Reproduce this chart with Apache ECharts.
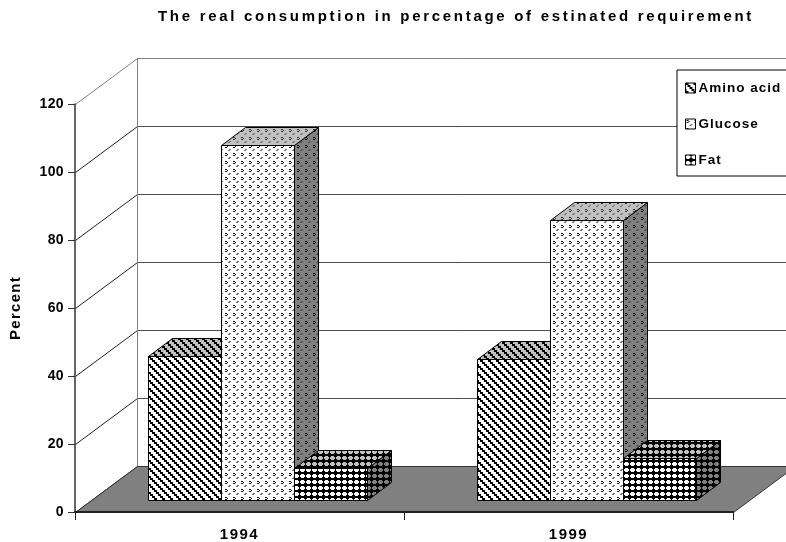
<!DOCTYPE html>
<html>
<head>
<meta charset="utf-8">
<style>
html,body{margin:0;padding:0;background:#fff;overflow:hidden;}
#chart{width:786px;height:542px;}
</style>
<script src="https://cdn.jsdelivr.net/npm/echarts@6/dist/echarts.min.js"></script>
</head>
<body>
<div id="chart"></div>
<script>
const titleText = 'The real consumption in percentage of estinated requirement';
const categories = ['1994', '1999'];
const yTicks = [0, 20, 40, 60, 80, 100, 120];
const aminoAcid = [42.4, 41.5];
const glucose = [104.4, 82.4];
const fat = [9.4, 12.4];

// the source chart has wide tracked type, echarts has no letter spacing option
const trackedText = {Percent: '1.3px', 'Amino acid': '1px', Glucose: '1px', Fat: '1px', '1994': '1.5px', '1999': '1.5px'};
trackedText[titleText] = '2.7px';
const rawFillText = CanvasRenderingContext2D.prototype.fillText;
CanvasRenderingContext2D.prototype.fillText = function(text){
    this.letterSpacing = trackedText[text] || '0.4px';
    return rawFillText.apply(this, arguments);
};

function tile(rows, colors){
    const c = document.createElement('canvas');
    c.width = rows[0].length;
    c.height = rows.length;
    const ctx = c.getContext('2d');
    rows.forEach((row, y) => {
        for(let x = 0; x < row.length; x++){
            ctx.fillStyle = colors[row[x]];
            ctx.fillRect(x, y, 1, 1);
        }
    });
    return {image: c, repeat: 'repeat'};
}

const stripeRows = [
    'XXX.....',
    'XXX.....',
    '..XXX...',
    '..XXX...',
    '....XXX.',
    '....XXX.',
    'X.....XX',
    'X.....XX'
];
const dotRows = [
    '........',
    '.XX.....',
    '...X....',
    '.XX.....',
    '........',
    '.....oo.',
    '....oo..',
    '........'
];
const knobRows = [
    '.ooo..',
    'ooooo.',
    'ooooo.',
    '.ooo..',
    '......',
    '......'
];
const patterns = {
    amino: {
        front: tile(stripeRows, {'.': '#fff', X: '#000'}),
        top: tile(stripeRows, {'.': '#c0c0c0', X: '#000'}),
        side: tile(stripeRows, {'.': '#808080', X: '#000'})
    },
    glucose: {
        front: tile(dotRows, {'.': '#fff', X: '#111', o: '#777'}),
        top: tile(dotRows, {'.': '#c0c0c0', X: '#333', o: '#808080'}),
        side: tile(dotRows, {'.': '#808080', X: '#000', o: '#555'})
    },
    fat: {
        front: tile(knobRows, {'.': '#000', o: '#fff'}),
        top: tile(knobRows, {'.': '#000', o: '#c0c0c0'}),
        side: tile(knobRows, {'.': '#000', o: '#808080'})
    }
};

const chart = echarts.init(document.getElementById('chart'), null, {renderer: 'canvas'});

const crisp = v => Math.round(v) + 0.5;
const floorDepth = [62, -46];
const barDepth = [24, -18];
const barShift = [18, -12];
const barShare = 73 / 329;

function poly(points, fill, stroke, lineWidth){
    return {
        type: 'polygon',
        shape: {points: points},
        style: {fill: fill, stroke: stroke, lineWidth: lineWidth === undefined ? 1 : lineWidth}
    };
}

function renderWall(params, api){
    const rect = params.coordSys;
    const v = api.value(0);
    const y = crisp(api.coord([0, v])[1]);
    const x = crisp(rect.x);
    const backX = x + floorDepth[0];
    const backY = y + floorDepth[1];
    const isTop = v === yTicks[yTicks.length - 1];
    const children = [
        {type: 'line', shape: {x1: x, y1: y, x2: backX, y2: backY}, style: {stroke: isTop ? '#808080' : '#222', lineWidth: 1}},
        {type: 'line', shape: {x1: backX, y1: backY, x2: backX + rect.width, y2: backY}, style: {stroke: isTop ? '#808080' : '#4d4d4d', lineWidth: 1}}
    ];
    if(isTop){
        const bottom = crisp(api.coord([0, 0])[1]) + floorDepth[1];
        children.push({type: 'line', shape: {x1: backX, y1: backY, x2: backX, y2: bottom}, style: {stroke: '#808080', lineWidth: 1}});
    }
    return {type: 'group', children: children};
}

function renderFloor(params, api){
    const rect = params.coordSys;
    const x = crisp(rect.x);
    const y = crisp(api.coord([0, 0])[1]);
    const r = x + rect.width;
    return poly([
        [x, y],
        [x + floorDepth[0], y + floorDepth[1]],
        [r + floorDepth[0], y + floorDepth[1]],
        [r, y]
    ], '#808080', '#333');
}

function barRenderer(slot, look){
    return function(params, api){
        const cat = api.value(0);
        const base = api.coord([cat, 0]);
        const top = api.coord([cat, api.value(1)]);
        const w = Math.round(api.size([1, 0])[0] * barShare);
        const left = crisp(base[0] + barShift[0] + (slot - 1.5) * w);
        const right = left + w;
        const bottom = crisp(base[1] + barShift[1]);
        const head = crisp(top[1] + barShift[1]);
        const dx = barDepth[0];
        const dy = barDepth[1];
        return {
            type: 'group',
            children: [
                poly([[right, bottom], [right + dx, bottom + dy], [right + dx, head + dy], [right, head]], look.side, '#000'),
                poly([[left, head], [left + dx, head + dy], [right + dx, head + dy], [right, head]], look.top, '#000'),
                poly([[left, bottom], [left, head], [right, head], [right, bottom]], look.front, '#000')
            ]
        };
    };
}

function barSeries(name, values, slot, look){
    return {
        name: name,
        type: 'custom',
        z: 2,
        silent: true,
        clip: false,
        itemStyle: {color: look.front, borderColor: '#000', borderWidth: 1},
        encode: {x: 0, y: 1},
        renderItem: barRenderer(slot, look),
        data: values.map((v, i) => [i, v])
    };
}

const labelFont = {fontFamily: '"Liberation Sans", Arial, sans-serif', fontWeight: 'bold', fontSize: 14, color: '#000'};
const bigFont = Object.assign({}, labelFont, {fontSize: 15});

const option = {
    animation: false,
    backgroundColor: '#fff',
    title: {
        text: titleText,
        left: 158,
        top: 9,
        padding: 0,
        textStyle: bigFont
    },
    legend: {
        orient: 'vertical',
        left: 677,
        top: 70,
        z: 6,
        padding: [11, 40, 9, 8],
        backgroundColor: '#fff',
        borderColor: '#000',
        borderWidth: 1,
        borderRadius: 0,
        itemWidth: 10,
        itemHeight: 10,
        itemGap: 22,
        selectedMode: false,
        icon: 'rect',
        textStyle: Object.assign({}, labelFont, {fontSize: 13.5, padding: [0, 0, 0, -2]}),
        data: [
            {name: 'Amino acid', itemStyle: {color: patterns.amino.front, borderColor: '#000', borderWidth: 1}},
            {name: 'Glucose', itemStyle: {color: patterns.glucose.front, borderColor: '#000', borderWidth: 1}},
            {name: 'Fat', itemStyle: {color: patterns.fat.front, borderColor: '#000', borderWidth: 1}}
        ]
    },
    grid: {left: 75, top: 104, width: 658, height: 408},
    xAxis: {
        type: 'category',
        data: categories,
        z: 3,
        axisLine: {lineStyle: {color: '#222', width: 2}},
        axisTick: {show: true, length: 8, lineStyle: {color: '#222', width: 1}},
        axisLabel: Object.assign({}, bigFont, {margin: 15})
    },
    yAxis: {
        type: 'value',
        min: 0,
        max: 120,
        interval: 20,
        z: 3,
        name: 'Percent',
        nameLocation: 'middle',
        nameRotate: 90,
        nameGap: 52,
        nameTextStyle: bigFont,
        splitLine: {show: false},
        axisLine: {show: true, lineStyle: {color: '#333', width: 1.5}},
        axisTick: {show: true, length: 7, lineStyle: {color: '#333', width: 1}},
        axisLabel: Object.assign({}, labelFont, {margin: 11})
    },
    series: [
        {
            name: 'wall',
            type: 'custom',
            z: 0,
            silent: true,
            clip: false,
            encode: {y: 0},
            renderItem: renderWall,
            data: yTicks.map(v => [v])
        },
        {
            name: 'floor',
            type: 'custom',
            z: 1,
            silent: true,
            clip: false,
            renderItem: renderFloor,
            data: [[0]]
        },
        barSeries('Amino acid', aminoAcid, 0, patterns.amino),
        barSeries('Glucose', glucose, 1, patterns.glucose),
        barSeries('Fat', fat, 2, patterns.fat)
    ]
};

chart.setOption(option);
</script>
</body>
</html>
